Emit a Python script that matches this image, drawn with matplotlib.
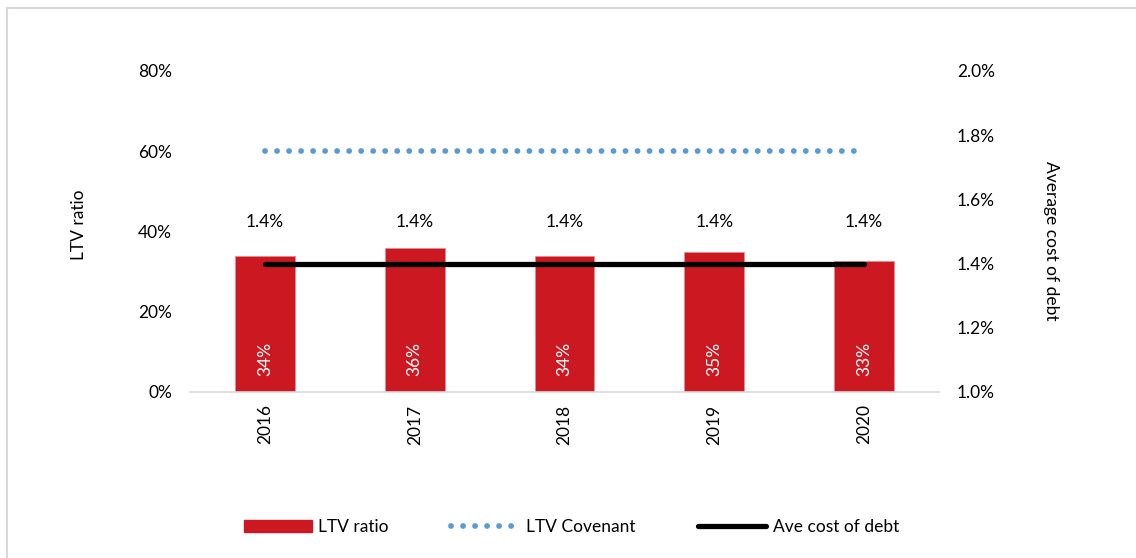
import matplotlib.pyplot as plt
from matplotlib.lines import Line2D
import numpy as np

plt.rcParams['font.family'] = ['Lato', 'DejaVu Sans']

# Data
years = ['2016', '2017', '2018', '2019', '2020']
ltv_ratio = [0.34, 0.36, 0.34, 0.35, 0.327]      # left axis
ltv_covenant = [0.60, 0.60, 0.60, 0.60, 0.60]   # left axis
cost_of_debt = [0.014, 0.014, 0.014, 0.014, 0.014]  # right axis

red = '#CC1820'
blue = '#5B9BD5'
fs = 12.5

fig = plt.figure(figsize=(11.36, 5.58), dpi=100)
ax = fig.add_axes([0.1673, 0.2975, 0.6593, 0.5753])
ax2 = ax.twinx()

x = np.arange(len(years))

# Bars
ax.bar(x, ltv_ratio, width=0.4, color=red, edgecolor='#E58A8E', linewidth=0.6,
       zorder=2, label='LTV ratio')
for xi, v in zip(x, ltv_ratio):
    ax.annotate(f'{v:.0%}', (xi, 0), xytext=(0, 11.5), textcoords='offset points',
                ha='center', va='bottom', rotation=90, color='white', fontsize=fs)

# Covenant dotted line
ax.plot(x, ltv_covenant, color=blue, linewidth=4.2, linestyle=(0, (0.01, 2.05)),
        dash_capstyle='round', zorder=3)

# Average cost of debt
ax2.plot(x, cost_of_debt, color='black', linewidth=3.8, solid_capstyle='round', zorder=3)
for xi, v in zip(x, cost_of_debt):
    ax2.annotate(f'{v:.1%}', (xi, v), xytext=(0, 30), textcoords='offset points',
                 ha='center', va='center', fontsize=fs)

# Axes
ax.set_xlim(-0.5, 4.5)
ax.set_ylim(0, 0.8)
ax.set_yticks([0, 0.2, 0.4, 0.6, 0.8])
ax.set_yticklabels(['0%', '20%', '40%', '60%', '80%'])
ax.set_xticks(x)
ax.set_xticklabels(years, rotation=90)
ax2.set_ylim(0.01, 0.02)
ax2.set_yticks([0.010, 0.012, 0.014, 0.016, 0.018, 0.020])
ax2.set_yticklabels(['1.0%', '1.2%', '1.4%', '1.6%', '1.8%', '2.0%'])

ax.tick_params(axis='y', length=0, pad=13, labelsize=fs)
ax.tick_params(axis='x', length=0, pad=9, labelsize=fs)
ax2.tick_params(axis='y', length=0, pad=13, labelsize=fs)

for a in (ax, ax2):
    for s in ('top', 'left', 'right', 'bottom'):
        a.spines[s].set_visible(False)
ax.spines['bottom'].set_visible(True)
ax.spines['bottom'].set_color('#D9D9D9')
ax.spines['bottom'].set_linewidth(1.2)

ax.set_ylabel('LTV ratio', fontsize=fs)
ax.yaxis.set_label_coords(-0.137, 0.52)
ax2.set_ylabel('Average cost of debt', fontsize=fs, rotation=270, va='center')
ax2.yaxis.set_label_coords(1.149, 0.47)

# Legend
handles = [
    plt.Rectangle((0, 0), 1, 1, color=red),
    Line2D([], [], color=blue, linewidth=4.2, linestyle=(0, (0.01, 2.05)),
           dash_capstyle='round'),
    Line2D([], [], color='black', linewidth=3.8, solid_capstyle='round'),
]
labels = ['LTV ratio', 'LTV Covenant', 'Ave cost of debt']
fig.legend(handles, labels, loc='center', bbox_to_anchor=(0.503, 0.055), ncol=3,
           frameon=False, fontsize=fs, handlelength=3.9, handleheight=0.7,
           handletextpad=0.4, columnspacing=3.6)

# Light frame on the top and left edges
fig.add_artist(Line2D([0.0062, 0.0062], [0.0, 0.986], color='#D9D9D9', linewidth=1.5,
                      transform=fig.transFigure))
fig.add_artist(Line2D([0.0062, 1.0], [0.986, 0.986], color='#D9D9D9', linewidth=1.5,
                      transform=fig.transFigure))

fig.savefig('out.png', dpi=100)
